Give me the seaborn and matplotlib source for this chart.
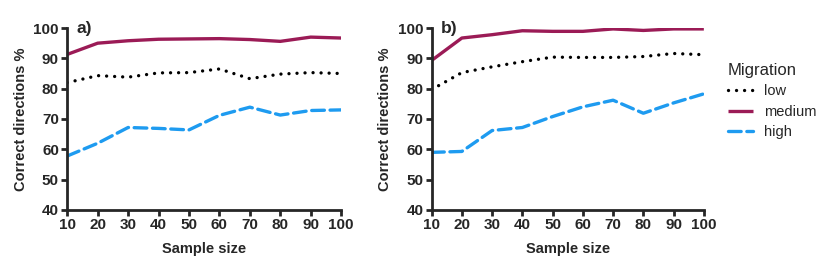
import seaborn as sns
import matplotlib.pyplot as plt
import pandas as pd

# datos
tamanos = [10, 20, 30, 40, 50, 60, 70, 80, 90, 100]
niveles = ["low", "medium", "high"]

a_low = [82.0, 84.3, 83.8, 85.2, 85.3, 86.5, 83.3, 84.8, 85.3, 85.0]
a_medium = [91.3, 95.0, 95.8, 96.3, 96.4, 96.5, 96.2, 95.6, 97.0, 96.7]
a_high = [57.8, 62.0, 67.2, 66.9, 66.4, 71.2, 73.9, 71.3, 72.8, 73.0]

b_low = [79.7, 85.3, 87.2, 88.9, 90.4, 90.3, 90.3, 90.6, 91.6, 91.2]
b_medium = [89.3, 96.7, 97.8, 99.1, 98.9, 98.9, 99.7, 99.2, 99.7, 99.7]
b_high = [59.0, 59.3, 66.2, 67.2, 70.8, 74.0, 76.2, 71.9, 75.3, 78.3]

paneles = {"a)": [a_low, a_medium, a_high], "b)": [b_low, b_medium, b_high]}

colores = {"low": "black", "medium": "#9b1b56", "high": "#1e9bf0"}
estilos = {"low": (0, (0.01, 2.4)), "medium": "-", "high": (0, (3.8, 1.7))}

sns.set_style("ticks")
plt.rcParams["font.family"] = ["Liberation Sans", "DejaVu Sans"]

fig = plt.figure(figsize=(8.3, 2.72), dpi=100)
ax_a = fig.add_axes([0.081, 0.228, 0.330, 0.669])
ax_b = fig.add_axes([0.520, 0.228, 0.328, 0.669])

for ax, (etiqueta, series) in zip([ax_a, ax_b], paneles.items()):
    filas = []
    for nivel, valores in zip(niveles, series):
        for x, y in zip(tamanos, valores):
            filas.append({"Sample size": x, "valor": y, "Migration": nivel})
    df = pd.DataFrame(filas)
    for nivel in niveles:
        sub = df[df["Migration"] == nivel]
        sns.lineplot(data=sub, x="Sample size", y="valor", ax=ax,
                     color=colores[nivel], linestyle=estilos[nivel],
                     linewidth=2.4, label=nivel, legend=False,
                     solid_capstyle="butt", dash_capstyle="round")
    ax.set_xlim(10, 100)
    ax.set_ylim(40, 100)
    ax.set_xticks(tamanos)
    ax.set_yticks(range(40, 101, 10))
    ax.set_xlabel("Sample size", fontsize=10.5, fontweight="bold", labelpad=7)
    ax.set_ylabel("Correct directions %", fontsize=10.5, fontweight="bold",
                  labelpad=4)
    ax.tick_params(width=2, length=4, labelsize=11, pad=2)
    for lab in ax.get_xticklabels() + ax.get_yticklabels():
        lab.set_fontweight("bold")
    for s in ["left", "bottom"]:
        ax.spines[s].set_linewidth(2)
    sns.despine(ax=ax)
    ax.text(13, 100, etiqueta, fontsize=12.5, fontweight="bold", va="center")

handles, labels = ax_b.get_legend_handles_labels()
fig.legend(handles, labels, title="Migration", loc="upper left",
           bbox_to_anchor=(0.861, 0.818), frameon=False, fontsize=10.5,
           title_fontsize=12, handlelength=1.7, handletextpad=0.8,
           labelspacing=0.45, alignment="left")

plt.savefig("out.png", dpi=100)
